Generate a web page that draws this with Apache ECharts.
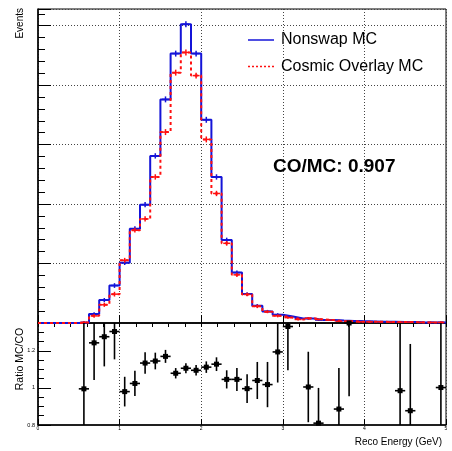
<!DOCTYPE html>
<html>
<head>
<meta charset="utf-8">
<script src="https://cdn.jsdelivr.net/npm/echarts@6/dist/echarts.min.js"></script>
<style>
html,body{margin:0;padding:0;background:#fff;}
#c{width:452px;height:451px;}
</style>
</head>
<body>
<div id="c"></div>
<script>
// ---- data ----
const binWidth = 0.125;            // GeV, 40 bins from 0 to 5
const nonswapMC = [0,0,0,0,1,15,38.5,63,101.5,158.5,199,281,376,453,502.5,453,341.7,245.6,139.5,84.8,48.6,29,19.5,14,11,7.7,7.7,5,5,4,3.5,3,2.5,2,2,1.5,1.5,1,1,1];
const nonswapErr = [0,0,0,0,2,3,3.5,4,4,4,4.5,4.5,5,5,5,5,5,4.5,4,3.5,3,3,2.5,2.5,2,2,2,1.5,1.5,1.5,1.5,1.5,1,1,1,1,1,1,1,1];
const cosmicMC = [0,0,0,0,1,12,30.6,48.5,105.5,156,175,245.6,321,421,455,416,308.7,217.8,134,81,48,28,19,12,9,6,8,6,5,3,3,2,2,2,1.5,1.5,1.5,1,1,1];
const cosmicErr = [0,0,0,0,2,3,3.5,4,4,4,4.5,4.5,5,5,5,5,5,4.5,4,3.5,3,3,2.5,2.5,2,2,2,1.5,1.5,1.5,1.5,1.5,1,1,1,1,1,1,1,1];
// ratio MC/CO: [bin index, value, error]
const ratioBins = [4,5,6,7,8,9,10,11,12,13,14,15,16,17,18,19,20,21,22,23,24,26,27,29,30,35,36,39];
const ratioVals = [0.995,1.243,1.276,1.304,0.98,1.024,1.134,1.145,1.17,1.079,1.106,1.095,1.112,1.128,1.046,1.046,0.996,1.04,1.018,1.194,1.331,1.005,0.81,0.886,1.35,0.985,0.877,1.002];
const ratioErrs = [0.6,0.2,0.16,0.15,0.08,0.068,0.058,0.045,0.035,0.028,0.027,0.028,0.031,0.037,0.049,0.062,0.077,0.1,0.122,0.165,0.236,0.19,0.19,0.222,0.395,0.6,0.36,0.6];
const xTickLabels = ['0','1','2','3','4','5'];
const ratioTickLabels = ['0.8','1','1.2'];
const coOverMC = '0.907';

// ---- build series data ----
function stepData(vals){
  const d = vals.map((v,i)=>[i*binWidth, v]);
  d.push([vals.length*binWidth, vals[vals.length-1]]);
  return d;
}
function crossData(vals, errs){
  const d = [];
  vals.forEach((v,i)=>{ if(v>0) d.push([(i+0.5)*binWidth, v, errs[i]]); });
  return d;
}
const ratioData = ratioBins.map((b,k)=>[(b+0.5)*binWidth, ratioVals[k], ratioErrs[k]]);

const FONT = "'Liberation Sans', Arial, Helvetica, sans-serif";
const YMAX = 528, RMIN = 0.8, RMAX = 1.35;

function crossRender(color){
  return function(params, api){
    const x = api.value(0), v = api.value(1), e = api.value(2);
    const c = api.coord([x, v]);
    const t = api.coord([x, v+e]);
    const b = api.coord([x, Math.max(0, v-e)]);
    const half = api.size([binWidth, 0])[0]*0.34;
    return {type:'group', children:[
      {type:'line', shape:{x1:c[0], y1:t[1], x2:c[0], y2:b[1]}, style:{stroke:color, lineWidth:1.5}},
      {type:'line', shape:{x1:c[0]-half, y1:c[1], x2:c[0]+half, y2:c[1]}, style:{stroke:color, lineWidth:1.5}}
    ]};
  };
}
function ratioRender(params, api){
  const x = api.value(0), v = api.value(1), e = api.value(2);
  const c = api.coord([x, v]);
  const t = api.coord([x, Math.min(RMAX, v+e)]);
  const b = api.coord([x, Math.max(RMIN, v-e)]);
  const half = api.size([binWidth, 0])[0]*0.5;
  return {type:'group', children:[
    {type:'line', shape:{x1:c[0], y1:t[1], x2:c[0], y2:b[1]}, style:{stroke:'#000', lineWidth:1.6}},
    {type:'line', shape:{x1:c[0]-half, y1:c[1], x2:c[0]+half, y2:c[1]}, style:{stroke:'#000', lineWidth:1.6}},
    {type:'rect', shape:{x:c[0]-2.5, y:c[1]-2.5, width:5, height:5}, style:{fill:'#000'}}
  ]};
}

const gridLine = {show:true, lineStyle:{color:'#444', type:[1,2], width:1}};
const chart = echarts.init(document.getElementById('c'), null, {renderer:'canvas'});
chart.setOption({
  animation:false,
  backgroundColor:'#fff',
  grid:[
    {left:38, right:6, top:9, height:314, show:true, borderColor:'#000', borderWidth:1},
    {left:38, right:6, top:323, height:102, show:true, borderColor:'#000', borderWidth:1}
  ],
  xAxis:[
    {gridIndex:0, type:'value', min:0, max:5, interval:1, axisLabel:{show:false},
     axisLine:{show:true, lineStyle:{color:'#000', width:1.5}},
     axisTick:{show:true, inside:true, length:8, lineStyle:{color:'#000'}}, splitLine:gridLine},
    {gridIndex:0, type:'value', min:0, max:5, interval:0.2, axisLabel:{show:false}, axisLine:{show:false},
     axisTick:{show:true, inside:true, length:4, lineStyle:{color:'#000'}}, splitLine:{show:false}},
    {gridIndex:1, type:'value', min:0, max:5, interval:1,
     axisLabel:{show:true, fontSize:5, margin:1, color:'#000', fontFamily:FONT,
       formatter:(v)=>xTickLabels[Math.round(v)] || ''},
     axisLine:{show:true, lineStyle:{color:'#000', width:1.5}},
     axisTick:{show:true, inside:true, length:6, lineStyle:{color:'#000'}}, splitLine:gridLine},
    {gridIndex:1, type:'value', min:0, max:5, interval:0.2, axisLabel:{show:false}, axisLine:{show:false},
     axisTick:{show:true, inside:true, length:3, lineStyle:{color:'#000'}}, splitLine:{show:false}}
  ],
  yAxis:[
    {gridIndex:0, type:'value', min:0, max:YMAX, interval:100, axisLabel:{show:false},
     axisLine:{show:true, lineStyle:{color:'#000', width:1.5}},
     axisTick:{show:true, inside:true, length:13, lineStyle:{color:'#000'}}, splitLine:gridLine},
    {gridIndex:0, type:'value', min:0, max:YMAX, interval:20, position:'left', axisLabel:{show:false}, axisLine:{show:false},
     axisTick:{show:true, inside:true, length:7, lineStyle:{color:'#000'}}, splitLine:{show:false}},
    {gridIndex:1, type:'value', min:RMIN, max:RMAX, interval:0.2,
     axisLabel:{show:true, fontSize:5.5, margin:3, color:'#000', fontFamily:FONT, showMaxLabel:false,
       formatter:(v)=>{const s=String(+v.toFixed(2)); return ratioTickLabels.indexOf(s)>=0?s:'';}},
     axisLine:{show:true, lineStyle:{color:'#000', width:1.5}},
     axisTick:{show:true, inside:true, length:13, lineStyle:{color:'#000'}}, splitLine:{show:false}},
    {gridIndex:1, type:'value', min:RMIN, max:RMAX, interval:0.05, position:'left', axisLabel:{show:false}, axisLine:{show:false},
     axisTick:{show:true, inside:true, length:6, lineStyle:{color:'#000'}}, splitLine:{show:false}}
  ],
  series:[
    {name:'Nonswap MC', type:'line', xAxisIndex:0, yAxisIndex:0, step:'end', data:stepData(nonswapMC),
     symbol:'none', lineStyle:{color:'#1414d8', width:2}, z:3},
    {type:'custom', xAxisIndex:0, yAxisIndex:0, data:crossData(nonswapMC, nonswapErr), renderItem:crossRender('#1414d8'), z:3},
    {name:'Cosmic Overlay MC', type:'line', xAxisIndex:0, yAxisIndex:0, step:'end', data:stepData(cosmicMC),
     symbol:'none', lineStyle:{color:'#ff1010', width:2, type:[3,3]}, z:4},
    {type:'custom', xAxisIndex:0, yAxisIndex:0, data:crossData(cosmicMC, cosmicErr), renderItem:crossRender('#ff1010'), z:4},
    {name:'Ratio MC/CO', type:'custom', xAxisIndex:2, yAxisIndex:2, data:ratioData, renderItem:ratioRender, z:5}
  ],
  graphic:[
    {type:'line', shape:{x1:248, y1:40, x2:274, y2:40}, style:{stroke:'#1414d8', lineWidth:1.5}},
    {type:'text', x:281, y:40, style:{text:'Nonswap MC', font:'16px '+FONT, fill:'#000', textVerticalAlign:'middle'}},
    {type:'line', shape:{x1:248, y1:66.5, x2:274, y2:66.5}, style:{stroke:'#ff1010', lineWidth:1.5, lineDash:[2,2]}},
    {type:'text', x:281, y:67, style:{text:'Cosmic Overlay MC', font:'16px '+FONT, fill:'#000', textVerticalAlign:'middle'}},
    {type:'text', x:273, y:167, style:{text:'CO/MC: '+coOverMC, font:'bold 19px '+FONT, fill:'#000', textVerticalAlign:'middle'}},
    {type:'text', x:20.5, y:8, rotation:Math.PI/2, style:{text:'Events', font:'10px '+FONT, fill:'#000', textAlign:'right', textVerticalAlign:'middle'}},
    {type:'text', x:20, y:359, rotation:Math.PI/2, style:{text:'Ratio MC/CO', font:'10.5px '+FONT, fill:'#000', textAlign:'center', textVerticalAlign:'middle'}},
    {type:'text', x:442, y:442, style:{text:'Reco Energy (GeV)', font:'10px '+FONT, fill:'#000', textAlign:'right', textVerticalAlign:'middle'}}
  ]
});
</script>
</body>
</html>
